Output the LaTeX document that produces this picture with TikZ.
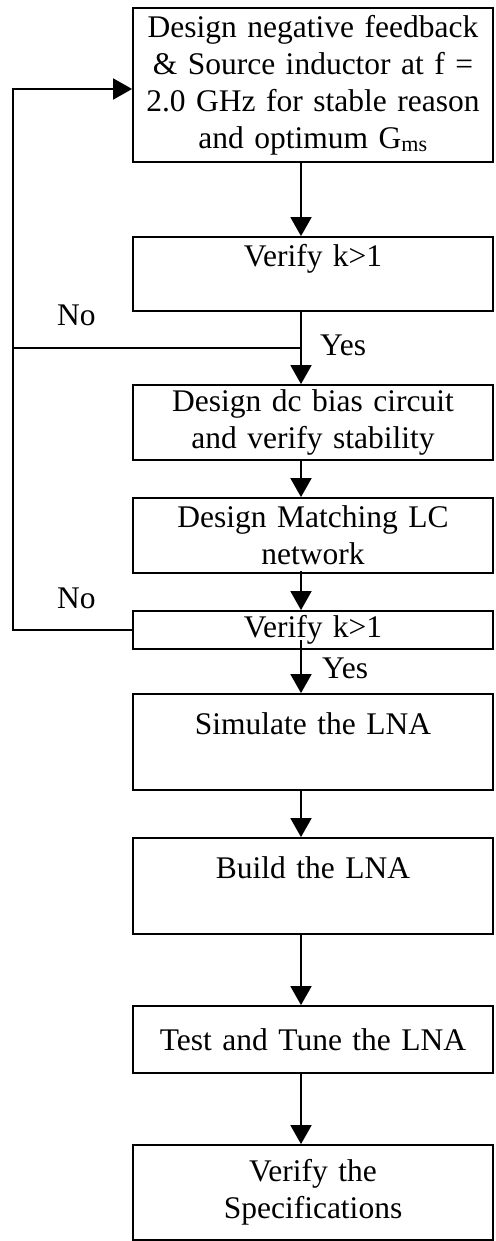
\documentclass[tikz,border=0pt]{standalone}
\usepackage{fontspec}
\setmainfont{Liberation Serif}
\usetikzlibrary{arrows.meta}
\begin{document}
\begin{tikzpicture}[x=1pt,y=-1pt,
  box/.style={draw,line width=1.8pt,rectangle,inner sep=0pt,minimum width=360pt,
    text width=356pt,align=center,font=\fontsize{31.5}{37}\selectfont},
  lbl/.style={inner sep=0pt,anchor=base west,font=\fontsize{31.5}{37}\selectfont},
  arr/.style={line width=1.8pt,-{Triangle[length=19pt,width=21pt]}},
  ln/.style={line width=1.8pt}]
\useasboundingbox (0,0) rectangle (495,1241);
\node[box,minimum height=154pt] (b1) at (313,85) {Design negative feedback\\ \& Source inductor at f =\\ 2.0 GHz for stable reason\\ and optimum G\textsubscript{ms}};
\node[box,minimum height=74pt] (b2) at (313,274) {Verify k>1\\ \mbox{}};
\node[box,minimum height=75pt] (b3) at (313,422.5) {Design dc bias circuit\\ and verify stability};
\node[box,minimum height=75pt] (b4) at (313,535.5) {Design Matching LC\\ network};
\node[box,minimum height=38pt] (b5) at (313,630) {Verify k>1};
\node[box,minimum height=96pt] (b6) at (313,742) {Simulate the LNA\\ \mbox{}};
\node[box,minimum height=96pt] (b7) at (313,886) {Build the LNA\\ \mbox{}};
\node[box,minimum height=67pt] (b8) at (313,1039.5) {Test and Tune the LNA};
\node[box,minimum height=95pt] (b9) at (313,1192.5) {Verify the\\ Specifications};
\coordinate (ax) at (301,0);
\coordinate (j1) at (301,348);
\coordinate (c1) at (13,348);
\coordinate (c2) at (13,630);
\coordinate (c3) at (13,89);
\coordinate (s5) at (301,640);
\node[lbl] (no1) at (57,325) {No};
\node[lbl] (no2) at (57,608) {No};
\node[lbl] (yes1) at (320,355) {Yes};
\node[lbl] (yes2) at (322,678) {Yes};
\draw[arr] (b1.south -| ax) -- (b2.north -| ax);
\draw[arr] (b2.south -| ax) -- (b3.north -| ax);
\draw[ln] (j1) -- (c1);
\draw[arr] (b5.west) -- (c2) -- (c3) -- (c3 -| b1.west);
\draw[arr] (b3.south -| ax) -- (b4.north -| ax);
\draw[arr] ([yshift=3pt]b4.south -| ax) -- (b5.north -| ax);
\draw[arr] (s5) -- (b6.north -| ax);
\draw[arr] (b6.south -| ax) -- (b7.north -| ax);
\draw[arr] (b7.south -| ax) -- (b8.north -| ax);
\draw[arr] (b8.south -| ax) -- (b9.north -| ax);
\end{tikzpicture}
\end{document}
